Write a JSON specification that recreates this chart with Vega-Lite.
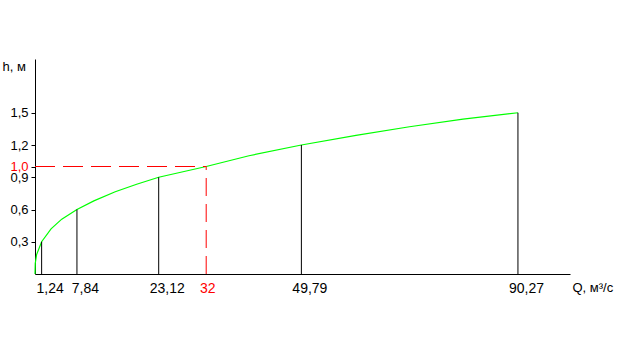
{
  "$schema": "https://vega.github.io/schema/vega-lite/v6.json",
  "autosize": "none",
  "width": 535,
  "height": 215,
  "padding": {"left": 35, "top": 59, "right": 54, "bottom": 78},
  "background": "white",
  "config": {
    "view": {"stroke": null},
    "font": "Liberation Sans",
    "axis": {"labelFont": "Liberation Sans", "titleFont": "Liberation Sans", "labelFontSize": 13, "titleFontSize": 13, "titleFontWeight": "normal", "labelColor": "black", "titleColor": "black", "domainColor": "black", "tickColor": "black", "grid": false}
  },
  "datasets": {
    "curve": [
      {"Q": 0, "h": 0},
      {"Q": 0.05, "h": 0.1},
      {"Q": 0.3, "h": 0.18},
      {"Q": 1.24, "h": 0.3},
      {"Q": 3.0, "h": 0.42},
      {"Q": 5.0, "h": 0.51},
      {"Q": 7.84, "h": 0.6},
      {"Q": 11.0, "h": 0.68},
      {"Q": 15.0, "h": 0.765},
      {"Q": 19.0, "h": 0.835},
      {"Q": 23.12, "h": 0.9},
      {"Q": 32, "h": 1.0},
      {"Q": 40, "h": 1.1},
      {"Q": 49.79, "h": 1.2},
      {"Q": 60, "h": 1.29},
      {"Q": 70, "h": 1.37},
      {"Q": 80, "h": 1.44},
      {"Q": 90.27, "h": 1.5}
    ],
    "marks": [
      {"Q": 1.24, "h": 0.3, "h0": 0},
      {"Q": 7.84, "h": 0.6, "h0": 0},
      {"Q": 23.12, "h": 0.9, "h0": 0},
      {"Q": 49.79, "h": 1.2, "h0": 0},
      {"Q": 90.27, "h": 1.5, "h0": 0}
    ],
    "design": [
      {"Q": 32, "h": 1.0, "Q0": 0, "h0": 0}
    ]
  },
  "layer": [
    {
      "data": {"name": "curve"},
      "mark": {"type": "line", "color": "#00ff00", "strokeWidth": 1.2},
      "encoding": {
        "x": {
          "field": "Q", "type": "quantitative",
          "scale": {"domain": [0, 100], "nice": false, "zero": true},
          "axis": {
            "title": "Q, м³/с",
            "titleX": 537, "titleY": 13, "titleAlign": "left", "titleBaseline": "middle",
            "values": [1.24, 7.84, 23.12, 32, 49.79, 90.27],
            "ticks": false,
            "labelFontSize": 14,
            "labelAlign": "center",
            "labelOffset": {"condition": {"test": "datum.value == 32", "value": 1}, "value": 8},
            "labelPadding": 7,
            "labelExpr": "datum.value == 32 ? '32' : replace(format(datum.value, '.2f'), '.', ',')",
            "labelColor": {"condition": {"test": "datum.value == 32", "value": "#ff0000"}, "value": "black"},
            "labelOverlap": false,
            "labelBound": false,
            "labelFlush": false
          }
        },
        "y": {
          "field": "h", "type": "quantitative",
          "scale": {"domain": [0, 2], "nice": false},
          "axis": {
            "title": "h, м",
            "titleAngle": 0, "titleX": -33, "titleY": 7, "titleAlign": "left", "titleBaseline": "middle",
            "values": [0.3, 0.6, 0.9, 1.0, 1.2, 1.5],
            "tickSize": 4, "labelPadding": 3,
            "labelExpr": "replace(format(datum.value, '.1f'), '.', ',')",
            "labelColor": {"condition": {"test": "datum.value == 1", "value": "#ff0000"}, "value": "black"},
            "labelOverlap": false
          }
        }
      }
    },
    {
      "data": {"name": "marks"},
      "mark": {"type": "rule", "color": "black", "strokeWidth": 1},
      "encoding": {
        "x": {"field": "Q", "type": "quantitative"},
        "y": {"field": "h0", "type": "quantitative"},
        "y2": {"field": "h"}
      }
    },
    {
      "data": {"name": "design"},
      "mark": {"type": "rule", "color": "#ff0000", "strokeWidth": 1, "strokeDash": [18, 8]},
      "encoding": {
        "x": {"field": "Q", "type": "quantitative"},
        "y": {"field": "h0", "type": "quantitative"},
        "y2": {"field": "h"}
      }
    },
    {
      "data": {"name": "design"},
      "mark": {"type": "rule", "color": "#ff0000", "strokeWidth": 1, "strokeDash": [20, 8]},
      "encoding": {
        "x": {"field": "Q0", "type": "quantitative"},
        "x2": {"field": "Q"},
        "y": {"field": "h", "type": "quantitative"}
      }
    }
  ]
}
